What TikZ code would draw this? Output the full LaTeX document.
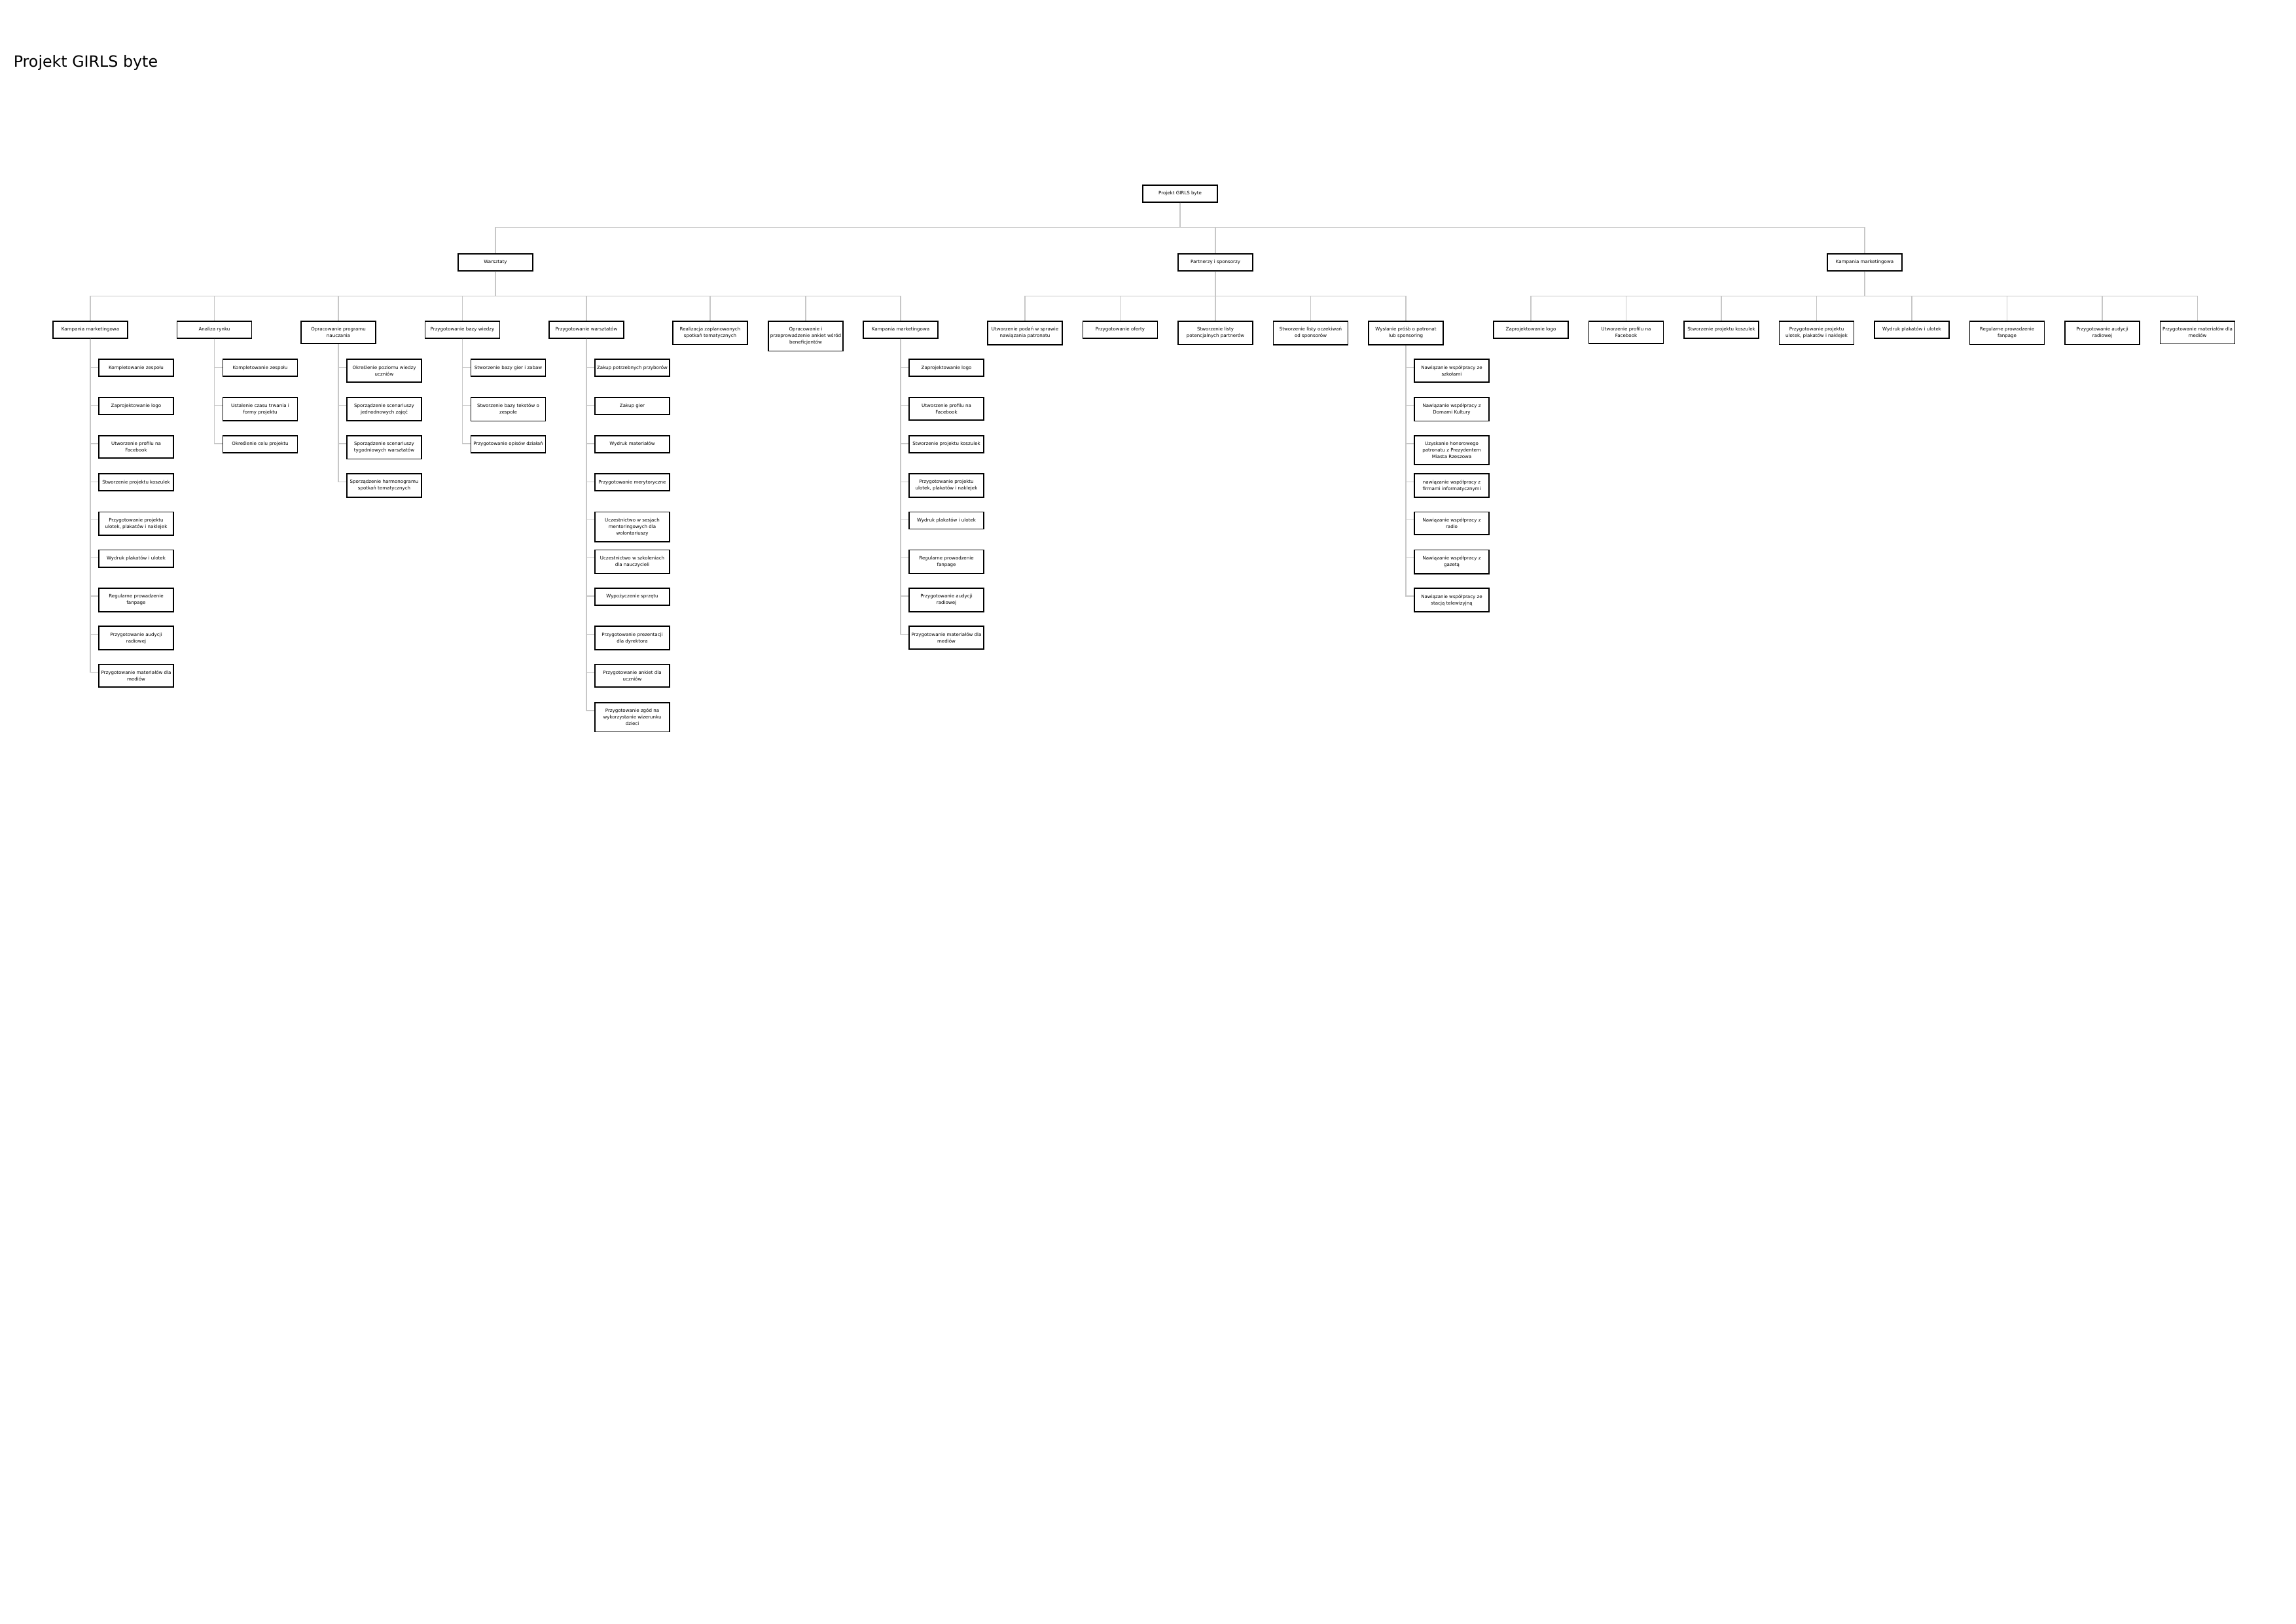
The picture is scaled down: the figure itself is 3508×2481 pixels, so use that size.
\documentclass[tikz,border=0pt]{standalone}
\usepackage{fontspec}
\setmainfont{DejaVu Sans}
\colorlet{linkgray}{black!22}
\newcommand{\boxfont}{\fontsize{1.7}{2.4}\selectfont}
% children of one task: parent node, x of the children, texts
\newcommand{\subtasks}[3]{%
  \foreach \t [count=\i] in {#3} {
    \node[task] (#1-\i) at (#2,{490+58.3*\i}) {\t};
    \draw[link] (#1.south) |- ([yshift=-3.12pt]#1-\i.north west);
  }}

\begin{document}
\begin{tikzpicture}[x=0.24pt,y=-0.24pt,
    task/.style={draw,line width=0.4pt,anchor=north,minimum width=27.4pt,
      minimum height=6.24pt,inner xsep=0.3pt,inner ysep=2.27pt,align=center,font=\boxfont},
    link/.style={draw=linkgray,line width=0.3pt}]
  \useasboundingbox (0,0) rectangle (3508,2481);
  \node[anchor=west,inner sep=0pt,font=\fontsize{5.7}{6.8}\selectfont] (title) at (20,96) {Projekt GIRLS byte};

  \node[task] (root) at (1803,282) {Projekt GIRLS byte};
  \node[task] (ws) at (757,387) {Warsztaty};
  \node[task] (ps) at (1857,387) {Partnerzy i sponsorzy};
  \node[task] (km) at (2849,387) {Kampania marketingowa};
  \foreach \n in {ws,ps,km}
    \draw[link] (root.south) -- ++(0,38) -| (\n.north);

  % Warsztaty
  \node[task] (w1) at (138,490) {Kampania marketingowa};
  \node[task] (w2) at (327.5,490) {Analiza rynku};
  \node[task] (w3) at (517,490) {Opracowanie programu\\nauczania};
  \node[task] (w4) at (706.5,490) {Przygotowanie bazy wiedzy};
  \node[task] (w5) at (896,490) {Przygotowanie warsztatów};
  \node[task] (w6) at (1085,490) {Realizacja zaplanowanych\\spotkań tematycznych};
  \node[task] (w7) at (1231,490) {Opracowanie i\\przeprowadzenie ankiet wśród\\beneficjentów};
  \node[task] (w8) at (1376,490) {Kampania marketingowa};
  \foreach \i in {1,...,8}
    \draw[link] (ws.south) -- ++(0,38) -| (w\i.north);

  % Partnerzy i sponsorzy
  \node[task] (p1) at (1566,490) {Utworzenie podań w sprawie\\nawiązania patronatu};
  \node[task] (p2) at (1711.5,490) {Przygotowanie oferty};
  \node[task] (p3) at (1857,490) {Stworzenie listy\\potencjalnych partnerów};
  \node[task] (p4) at (2002.5,490) {Stworzenie listy oczekiwań\\od sponsorów};
  \node[task] (p5) at (2148,490) {Wysłanie próśb o patronat\\lub sponsoring};
  \foreach \i in {1,...,5}
    \draw[link] (ps.south) -- ++(0,38) -| (p\i.north);

  % Kampania marketingowa
  \node[task] (k1) at (2339,490) {Zaprojektowanie logo};
  \node[task] (k2) at (2484.5,490) {Utworzenie profilu na\\Facebook};
  \node[task] (k3) at (2630,490) {Stworzenie projektu koszulek};
  \node[task] (k4) at (2775.5,490) {Przygotowanie projektu\\ulotek, plakatów i naklejek};
  \node[task] (k5) at (2921,490) {Wydruk plakatów i ulotek};
  \node[task] (k6) at (3066.5,490) {Regularne prowadzenie\\fanpage};
  \node[task] (k7) at (3212,490) {Przygotowanie audycji\\radiowej};
  \node[task] (k8) at (3357.5,490) {Przygotowanie materiałów dla\\mediów};
  \foreach \i in {1,...,8}
    \draw[link] (km.south) -- ++(0,38) -| (k\i.north);

  % third level
  \subtasks{w1}{208}{Kompletowanie zespołu, Zaprojektowanie logo,
    {Utworzenie profilu na\\Facebook}, Stworzenie projektu koszulek,
    {Przygotowanie projektu\\ulotek, plakatów i naklejek}, Wydruk plakatów i ulotek,
    {Regularne prowadzenie\\fanpage}, {Przygotowanie audycji\\radiowej},
    {Przygotowanie materiałów dla\\mediów}}
  \subtasks{w2}{397.5}{Kompletowanie zespołu, {Ustalenie czasu trwania i\\formy projektu},
    Określenie celu projektu}
  \subtasks{w3}{587}{{Określenie poziomu wiedzy\\uczniów},
    {Sporządzenie scenariuszy\\jednodnowych zajęć},
    {Sporządzenie scenariuszy\\tygodniowych warsztatów},
    {Sporządzenie harmonogramu\\spotkań tematycznych}}
  \subtasks{w4}{776.5}{Stworzenie bazy gier i zabaw, {Stworzenie bazy tekstów o\\zespole},
    Przygotowanie opisów działań}
  \subtasks{w5}{966}{Zakup potrzebnych przyborów, Zakup gier, Wydruk materiałów,
    Przygotowanie merytoryczne, {Uczestnictwo w sesjach\\mentoringowych dla\\wolontariuszy},
    {Uczestnictwo w szkoleniach\\dla nauczycieli}, Wypożyczenie sprzętu,
    {Przygotowanie prezentacji\\dla dyrektora}, {Przygotowanie ankiet dla\\uczniów},
    {Przygotowanie zgód na\\wykorzystanie wizerunku\\dzieci}}
  \subtasks{w8}{1446}{Zaprojektowanie logo, {Utworzenie profilu na\\Facebook},
    Stworzenie projektu koszulek, {Przygotowanie projektu\\ulotek, plakatów i naklejek},
    Wydruk plakatów i ulotek, {Regularne prowadzenie\\fanpage},
    {Przygotowanie audycji\\radiowej}, {Przygotowanie materiałów dla\\mediów}}
  \subtasks{p5}{2218}{{Nawiązanie współpracy ze\\szkołami},
    {Nawiązanie współpracy z\\Domami Kultury},
    {Uzyskanie honorowego\\patronatu z Prezydentem\\Miasta Rzeszowa},
    {nawiązanie współpracy z\\firmami informatycznymi},
    {Nawiązanie współpracy z\\radio}, {Nawiązanie współpracy z\\gazetą},
    {Nawiązanie współpracy ze\\stacją telewizyjną}}
\end{tikzpicture}
\end{document}
